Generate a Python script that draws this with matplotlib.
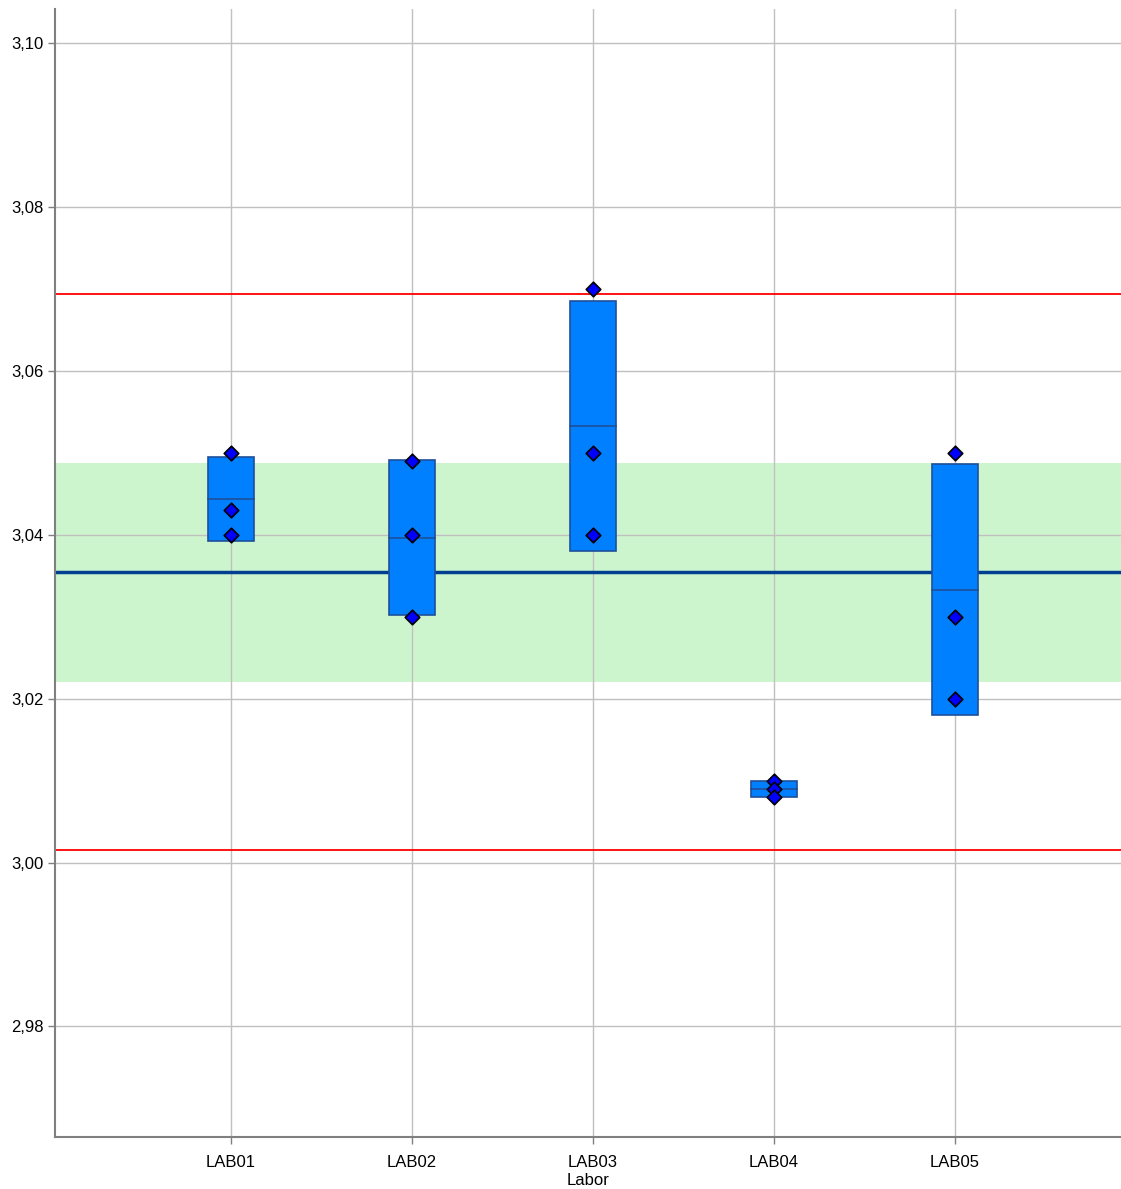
import matplotlib
matplotlib.use("Agg")
import matplotlib.pyplot as plt
import numpy as np
from matplotlib.ticker import FuncFormatter

plt.rcParams['font.family'] = ['Liberation Sans', 'DejaVu Sans']

labs = ["LAB01", "LAB02", "LAB03", "LAB04", "LAB05"]
# single measurements per lab
values = [
    [3.050, 3.043, 3.040],
    [3.049, 3.040, 3.030],
    [3.070, 3.050, 3.040],
    [3.010, 3.009, 3.008],
    [3.050, 3.030, 3.020],
]
assigned = 3.0355
band_low, band_high = 3.0221, 3.0488
limit_low, limit_high = 3.0015, 3.0694
yticks = [2.98, 3.00, 3.02, 3.04, 3.06, 3.08, 3.10]

fig = plt.figure(figsize=(11.21, 11.89), dpi=100)
ax = fig.add_axes([55 / 1121, 52 / 1189, 1 - 55 / 1121, (1137 - 9) / 1189])

ax.set_xlim(-0.972, 4.917)
ax.set_ylim(2.9665, 3.1042)

ax.axhspan(band_low, band_high, color="#cdf5cd", zorder=0, lw=0)
ax.grid(True, color="#c0c0c0", lw=1, zorder=1)
ax.axhline(limit_high, color="#ff0000", lw=1.3, zorder=2)
ax.axhline(limit_low, color="#ff0000", lw=1.3, zorder=2)
ax.axhline(assigned, color="#003f8f", lw=2.5, zorder=2)

w = 0.25
for i, v in enumerate(values):
    v = np.array(v)
    m = v.mean()
    s = v.std(ddof=1)
    ax.add_patch(plt.Rectangle((i - w / 2, m - s), w, 2 * s, facecolor="#0080ff",
                               edgecolor="#1f4f9a", lw=1.2, zorder=3))
    ax.plot([i - w / 2, i + w / 2], [m, m], color="#1f4f9a", lw=1.2, zorder=4)
    ax.scatter(np.full(len(v), i), v, marker="D", s=55, color="#0000ff",
               edgecolor="black", lw=1.2, zorder=5)

ax.set_xticks(range(len(labs)))
ax.set_xticklabels(labs)
ax.set_yticks(yticks)
ax.yaxis.set_major_formatter(FuncFormatter(lambda y, p: f"{y:.2f}".replace(".", ",")))
ax.tick_params(labelsize=12, color="#808080", length=5, width=1)
ax.tick_params(axis="x", pad=8)
ax.set_xlabel("Labor", fontsize=12, labelpad=2)

for side in ["top", "right"]:
    ax.spines[side].set_visible(False)
for side in ["left", "bottom"]:
    ax.spines[side].set_color("#808080")
    ax.spines[side].set_linewidth(1.5)

fig.savefig("out.png", dpi=100)
